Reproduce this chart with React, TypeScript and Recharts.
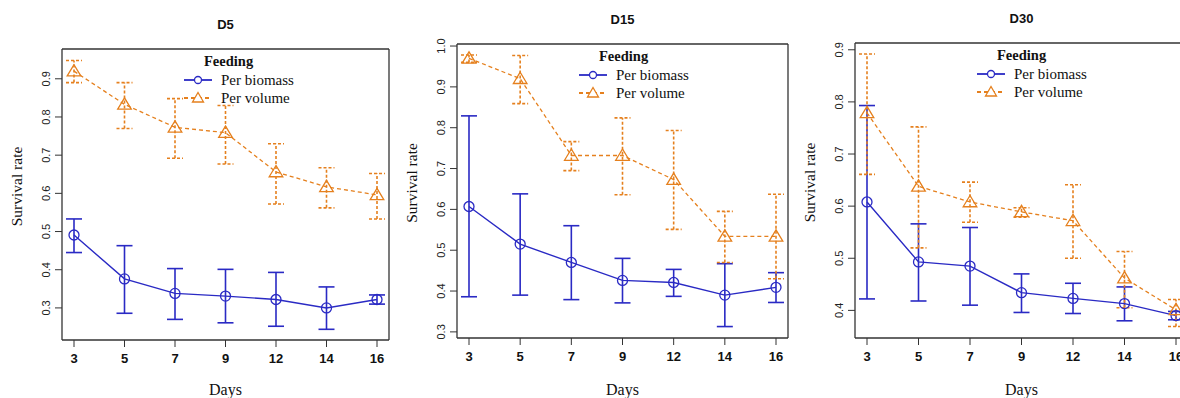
import { ErrorBar, Line, LineChart, XAxis, YAxis } from "recharts";

const days = ["3", "5", "7", "9", "12", "14", "16"];

const d5Biomass = [0.491, 0.376, 0.338, 0.331, 0.322, 0.3, 0.322];
const d5BiomassLow = [0.445, 0.286, 0.27, 0.261, 0.252, 0.244, 0.31];
const d5BiomassHigh = [0.533, 0.463, 0.403, 0.401, 0.393, 0.355, 0.334];
const d5Volume = [0.92, 0.833, 0.773, 0.759, 0.656, 0.617, 0.596];
const d5VolumeLow = [0.89, 0.77, 0.692, 0.677, 0.572, 0.562, 0.533];
const d5VolumeHigh = [0.948, 0.89, 0.848, 0.83, 0.73, 0.667, 0.652];

const d15Biomass = [0.607, 0.515, 0.47, 0.426, 0.421, 0.39, 0.409];
const d15BiomassLow = [0.386, 0.39, 0.379, 0.371, 0.387, 0.313, 0.372];
const d15BiomassHigh = [0.829, 0.638, 0.56, 0.48, 0.453, 0.467, 0.445];
const d15Volume = [0.97, 0.92, 0.732, 0.732, 0.673, 0.534, 0.534];
const d15VolumeLow = [0.96, 0.859, 0.695, 0.636, 0.551, 0.47, 0.43];
const d15VolumeHigh = [0.978, 0.977, 0.766, 0.824, 0.793, 0.595, 0.637];

const d30Biomass = [0.608, 0.493, 0.485, 0.434, 0.423, 0.413, 0.39];
const d30BiomassLow = [0.422, 0.418, 0.41, 0.396, 0.394, 0.38, 0.382];
const d30BiomassHigh = [0.793, 0.566, 0.559, 0.47, 0.452, 0.445, 0.398];
const d30Volume = [0.779, 0.638, 0.608, 0.589, 0.572, 0.462, 0.401];
const d30VolumeLow = [0.661, 0.52, 0.569, 0.579, 0.5, 0.405, 0.369];
const d30VolumeHigh = [0.892, 0.752, 0.646, 0.597, 0.641, 0.513, 0.421];

const d5Ticks = [0.3, 0.4, 0.5, 0.6, 0.7, 0.8, 0.9];
const d15Ticks = [0.3, 0.4, 0.5, 0.6, 0.7, 0.8, 0.9, 1.0];
const d30Ticks = [0.4, 0.5, 0.6, 0.7, 0.8, 0.9];

const BLUE = "#2a2ac4";
const ORANGE = "#e5801e";
const BOX = "#333";
const SERIF = "'Liberation Serif', 'Times New Roman', serif";
const SANS = "'Liberation Sans', Arial, sans-serif";

type Row = {
  day: string;
  bm: number;
  bmErr: number[];
  vol: number;
  volErr: number[];
};

function buildRows(
  bm: number[], bmLow: number[], bmHigh: number[],
  vol: number[], volLow: number[], volHigh: number[]
): Row[] {
  return days.map((day, i) => ({
    day,
    bm: bm[i],
    bmErr: [bm[i] - bmLow[i], bmHigh[i] - bm[i]],
    vol: vol[i],
    volErr: [vol[i] - volLow[i], volHigh[i] - vol[i]],
  }));
}

const panels = [
  {
    title: "D5",
    rows: buildRows(d5Biomass, d5BiomassLow, d5BiomassHigh, d5Volume, d5VolumeLow, d5VolumeHigh),
    ticks: d5Ticks,
    domain: [0.216, 0.978],
    plot: { l: 62, t: 49, r: 389, b: 340 },
    titleY: 24,
  },
  {
    title: "D15",
    rows: buildRows(d15Biomass, d15BiomassLow, d15BiomassHigh, d15Volume, d15VolumeLow, d15VolumeHigh),
    ticks: d15Ticks,
    domain: [0.285, 1.005],
    plot: { l: 457, t: 44, r: 788, b: 338 },
    titleY: 19,
  },
  {
    title: "D30",
    rows: buildRows(d30Biomass, d30BiomassLow, d30BiomassHigh, d30Volume, d30VolumeLow, d30VolumeHigh),
    ticks: d30Ticks,
    domain: [0.347, 0.913],
    plot: { l: 855, t: 43, r: 1188, b: 338 },
    titleY: 18,
  },
];

function Triangle({ cx, cy, stroke }: any) {
  if (cx == null || cy == null) return null;
  return (
    <path
      d={`M${cx},${cy - 6.5}L${cx - 6.8},${cy + 4.8}L${cx + 6.8},${cy + 4.8}Z`}
      fill="none"
      stroke={stroke}
      strokeWidth={1.3}
    />
  );
}

function YTick({ x, y, payload }: any) {
  return (
    <text
      x={x - 4}
      y={y}
      transform={`rotate(-90 ${x - 4} ${y})`}
      textAnchor="middle"
      dominantBaseline="central"
      fontFamily={SANS}
      fontSize={11}
      fill="#222"
    >
      {Number(payload.value).toFixed(1)}
    </text>
  );
}

function XTick({ x, y, payload }: any) {
  return (
    <text x={x} y={y + 9} textAnchor="middle" dominantBaseline="central" fontFamily={SANS} fontWeight="bold" fontSize={13} fill="#111">
      {payload.value}
    </text>
  );
}

function FeedingLegend() {
  const row = (label: string, color: string, dash: string | undefined, tri: boolean) => (
    <div style={{ display: "flex", alignItems: "center", height: 18, whiteSpace: "nowrap" }}>
      <svg width={28} height={14} style={{ marginRight: 9, flexShrink: 0 }}>
        <line x1={0} y1={7} x2={28} y2={7} stroke={color} strokeWidth={1.8} strokeDasharray={dash} />
        {tri ? (
          <path d="M14,1.5L8.5,11L19.5,11Z" fill="#fff" stroke={color} strokeWidth={1.3} />
        ) : (
          <circle cx={14} cy={7} r={3.5} fill="#fff" stroke={color} strokeWidth={1.3} />
        )}
      </svg>
      <span>{label}</span>
    </div>
  );
  return (
    <div style={{ fontFamily: SERIF, fontSize: 15, color: "#111", lineHeight: "18px", width: 150 }}>
      <div style={{ fontWeight: "bold", fontSize: 14.5, paddingLeft: 20, height: 20, lineHeight: "20px" }}>Feeding</div>
      {row("Per biomass", BLUE, undefined, false)}
      {row("Per volume", ORANGE, "4 3", true)}
    </div>
  );
}

function Panel({ p }: { p: (typeof panels)[number] }) {
  const yAxisW = 62;
  const left = p.plot.l - yAxisW;
  const width = p.plot.r - p.plot.l + yAxisW + 12;
  const height = 398;
  const xAxisH = height - p.plot.b;
  const midX = (p.plot.r - p.plot.l) / 2;
  return (
    <div style={{ position: "absolute", left, top: 0, width, height }}>
      <LineChart
        width={width}
        height={height}
        data={p.rows}
        margin={{ top: p.plot.t - 1, right: 11, bottom: 0, left: 0 }}
      >
        <XAxis
          dataKey="day"
          scale="point"
          padding={{ left: 12, right: 12 }}
          height={xAxisH}
          tickSize={7}
          tickMargin={2}
          tick={<XTick />}
          stroke={BOX}
          tickLine={{ stroke: BOX }}
          axisLine={{ stroke: BOX, strokeWidth: 1.3 }}
          interval={0}
          label={{
            content: ({ viewBox }: any) => (
              <text
                x={viewBox.x + viewBox.width / 2}
                y={389}
                textAnchor="middle"
                dominantBaseline="central"
                fontFamily={SERIF}
                fontSize={16}
                fill="#111"
              >
                Days
              </text>
            ),
          }}
        />
        <XAxis
          xAxisId="top"
          dataKey="day"
          orientation="top"
          height={1}
          tick={false}
          tickLine={false}
          stroke={BOX}
          axisLine={{ stroke: BOX, strokeWidth: 1.3 }}
          label={{
            content: () => (
              <text
                x={yAxisW + midX}
                y={p.titleY}
                textAnchor="middle"
                dominantBaseline="central"
                fontFamily={SANS}
                fontWeight="bold"
                fontSize={13}
                fill="#111"
              >
                {p.title}
              </text>
            ),
          }}
        />
        <YAxis
          type="number"
          domain={p.domain}
          ticks={p.ticks}
          allowDataOverflow
          width={yAxisW}
          tickSize={7}
          tickMargin={5}
          tick={<YTick />}
          tickLine={{ stroke: BOX }}
          axisLine={{ stroke: BOX, strokeWidth: 1.3 }}
          label={{
            content: ({ viewBox }: any) => {
              const cx = 16;
              const cy = viewBox.y + viewBox.height / 2 - 8;
              return (
                <text
                  x={cx}
                  y={cy}
                  transform={`rotate(-90 ${cx} ${cy})`}
                  textAnchor="middle"
                  dominantBaseline="central"
                  fontFamily={SERIF}
                  fontSize={15.5}
                  fill="#111"
                >
                  Survival rate
                </text>
              );
            },
          }}
        />
        <YAxis
          yAxisId="right"
          orientation="right"
          type="number"
          domain={p.domain}
          allowDataOverflow
          width={1}
          tick={false}
          tickLine={false}
          stroke={BOX}
          axisLine={{ stroke: BOX, strokeWidth: 1.3 }}
        />
        <Line
          dataKey="bm"
          stroke={BLUE}
          strokeWidth={1.4}
          isAnimationActive={false}
          dot={{ r: 5, fill: "none", stroke: BLUE, strokeWidth: 1.3 }}
          activeDot={false}
        >
          <ErrorBar dataKey="bmErr" width={8} stroke={BLUE} strokeWidth={1.6} direction="y" />
        </Line>
        <Line
          dataKey="vol"
          stroke={ORANGE}
          strokeWidth={1.3}
          strokeDasharray="4 3"
          isAnimationActive={false}
          dot={(d: any) => <Triangle key={`t-${d.index}`} cx={d.cx} cy={d.cy} stroke={ORANGE} />}
          activeDot={false}
        >
          <ErrorBar dataKey="volErr" width={8} stroke={ORANGE} strokeWidth={1.6} strokeDasharray="3 2" direction="y" />
        </Line>
      </LineChart>
      <div style={{ position: "absolute", left: yAxisW + 122, top: p.plot.t + 2 }}>
        <FeedingLegend />
      </div>
    </div>
  );
}

export default function App() {
  return (
    <div style={{ position: "fixed", left: 0, top: 0, width: 1180, height: 398, background: "#fff", overflow: "hidden" }}>
      {panels.map((p) => (
        <Panel key={p.title} p={p} />
      ))}
    </div>
  );
}
